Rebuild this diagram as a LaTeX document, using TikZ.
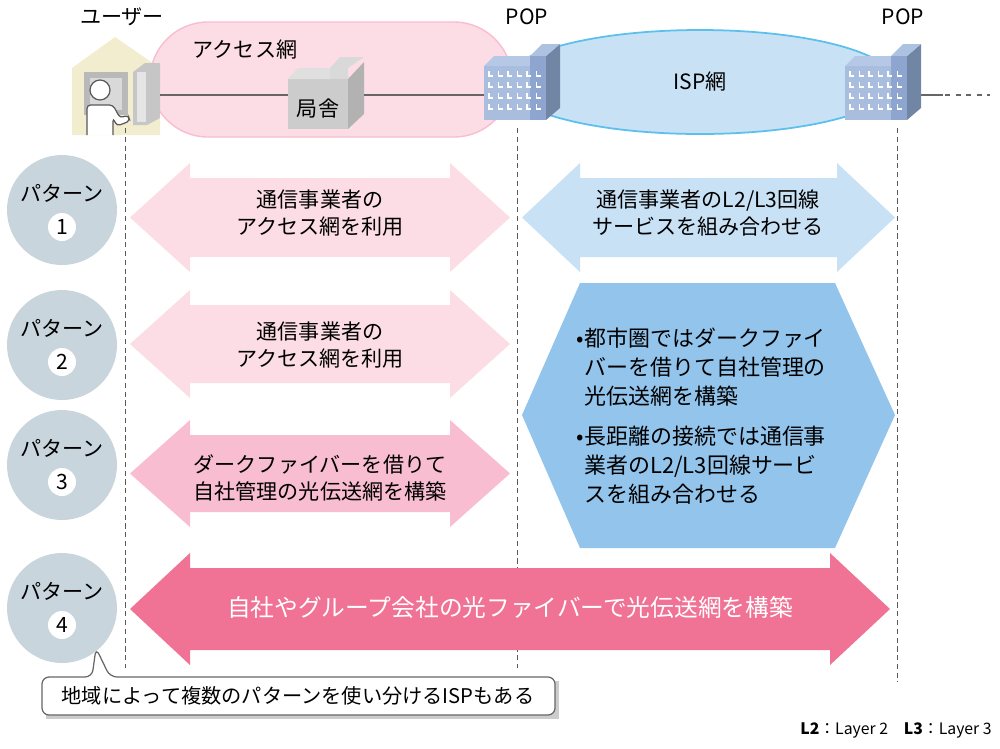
\documentclass[tikz,border=0pt]{standalone}
\usepackage{fontspec}
\setmainfont{Noto Sans CJK JP}
\usetikzlibrary{positioning,shapes.geometric,shapes.callouts,shadows}
\definecolor{pinkA}{HTML}{FCDDE5}
\definecolor{pinkB}{HTML}{F8BDD0}
\definecolor{pinkC}{HTML}{F07294}
\definecolor{blueA}{HTML}{C9E1F5}
\definecolor{blueB}{HTML}{93C5EC}
\definecolor{blueL}{HTML}{5BC0EB}
\definecolor{patgray}{HTML}{C9D5DC}
\definecolor{bldA}{HTML}{B5C8E6}
\definecolor{bldB}{HTML}{8EA6CF}
\definecolor{beige}{HTML}{F3EDCF}
\tikzset{
  lbl/.style={font=\fontsize{12}{15.5}\selectfont,align=center,inner sep=0pt},
  pat/.style={circle,fill=patgray,minimum size=110*0.02cm,inner sep=0pt},
  num/.style={circle,fill=white,minimum size=28*0.02cm,inner sep=0pt,font=\fontsize{12}{12}\selectfont},
  vline/.style={densely dashed,gray!70!black,line width=0.5pt},
  wire/.style={gray!80!black,line width=1.2pt},
}
\newcommand\dblarrow[6]{% fill, x1, x2, ytop, ybot, head
  \fill[#1] (#2,{(#4+#5)/2}) -- (#2+#6,#4-15) -- (#2+#6,#4) -- (#3-#6,#4) -- (#3-#6,#4-15)
    -- (#3,{(#4+#5)/2}) -- (#3-#6,#5+15) -- (#3-#6,#5) -- (#2+#6,#5) -- (#2+#6,#5+15) -- cycle;}
\newcommand\bldg[2]{% POP building at left-top corner
  \fill[bldB!80!black] (#1+62,#2+12) -- (#1+76,#2) -- (#1+76,#2+64) -- (#1+62,#2+76) -- cycle;
  \fill[bldA] (#1,#2+22) -- (#1+10,#2+12) -- (#1+46,#2+12) -- (#1+46,#2+22) -- cycle;
  \fill[bldA!80!bldB] (#1+46,#2+12) -- (#1+58,#2) -- (#1+76,#2) -- (#1+62,#2+12) -- cycle;
  \fill[bldB] (#1+46,#2+12) rectangle (#1+62,#2+76);
  \fill[bldA!70!bldB] (#1,#2+22) rectangle (#1+46,#2+76);
  \foreach \i in {0,...,5}{\foreach \j in {0,...,3}{
    \draw[white,line width=0.6pt] (#1+5+\i*9.5,#2+27+\j*11) -- ++(0,5) -- ++(4,0);}}
}
\begin{document}
\begin{tikzpicture}[x=0.02cm,y=-0.02cm]
\useasboundingbox (0,0) rectangle (1000,748);
% Networks
\fill[pinkA,draw=pinkB,line width=0.8pt,rounded corners=58*0.02cm] (150,22) rectangle (512,137);
\node[lbl] at (245,50) {アクセス網};
\draw[blueL,fill=blueA,line width=1pt] (700,82) ellipse [x radius=195,y radius=52];
\node[lbl] at (700,82) {ISP網};
% User
\fill[beige] (72,68) -- (115,37) -- (160,68) -- (160,135) -- (72,135) -- cycle;
\fill[gray!55] (84,72) rectangle (128,115);
\fill[gray!30] (90,78) rectangle (122,110);
\fill[gray!45] (133,72) -- (145,63) -- (160,63) -- (160,118) -- (147,125) -- (133,125) -- cycle;
\fill[gray!20] (137,72) rectangle (146,122);
\draw[gray!70!black,fill=white,line width=0.7pt] (100,90) circle (10);
\draw[gray!70!black,fill=white,line width=0.7pt,rounded corners=2pt]
  (87,135) -- (87,105) -- (113,105) -- (120,118) -- (128,115) -- (130,121) -- (117,126) -- (113,118) -- (113,135);
\coordinate (user) at (160,95);
\coordinate (kyokuW) at (288,95);
\coordinate (kyokuE) at (364,95);
% Station
\node[fill=gray!40,minimum width=60*0.02cm,minimum height=50*0.02cm,inner sep=0pt] (kyoku) at (318,104) {};
\fill[gray!60] (348,79) -- (364,62) -- (364,114) -- (348,129) -- cycle;
\fill[gray!25] (288,79) -- (298,68) -- (330,68) -- (330,79) -- cycle;
\fill[gray!30] (330,79) rectangle (348,68);
\fill[gray!30] (330,68) -- (340,57) -- (364,57) -- (348,68) -- cycle;
\node[lbl] at (318,108) {局舎};
% POPs
\coordinate (popL) at (484,95);
\coordinate (popRr) at (921,95);
\coordinate (endR) at (990,95);
\draw[wire] (user) -- (kyokuW);
\draw[wire] (kyokuE) -- (popL);
\draw[wire] (popRr) -- ++(22,0);
\draw[wire,dashed] (popRr) ++(24,0) -- (endR);
\bldg{484}{44}
\bldg{845}{44}
\node[lbl] at (122,17) {ユーザー};
\node[lbl] at (527,17) {POP};
\node[lbl] at (903,17) {POP};
% Guide lines
\coordinate (g1t) at (125,128); \coordinate (g1b) at (125,668);
\coordinate (g2t) at (517,128); \coordinate (g2b) at (517,668);
\coordinate (g3t) at (897,128); \coordinate (g3b) at (897,682);
\draw[vline] (g1t) -- (g1b);
\draw[vline] (g2t) -- (g2b);
\draw[vline] (g3t) -- (g3b);
% Patterns
\foreach \n/\y in {1/210,2/345,3/465,4/608}{
  \node[pat] (p\n) at (62,\y) {};
  \node[lbl] at (62,\y-17) {パターン};
  \node[num] at (62,\y+17) {\n};
}
% Arrows
\dblarrow{pinkA}{130}{510}{178}{257}{60}
\dblarrow{blueA}{522}{895}{178}{257}{58}
\dblarrow{pinkA}{130}{510}{305}{383}{60}
\dblarrow{pinkB}{130}{510}{435}{512}{60}
\dblarrow{pinkC}{130}{890}{568}{650}{60}
\fill[blueB] (580,283) -- (835,283) -- (895,415) -- (835,548) -- (580,548) -- (522,415) -- cycle;
\node[lbl] at (320,213) {通信事業者の\\アクセス網を利用};
\node[lbl] at (708,213) {通信事業者のL2/L3回線\\サービスを組み合わせる};
\node[lbl] at (320,345) {通信事業者の\\アクセス網を利用};
\node[lbl] at (320,478) {ダークファイバーを借りて\\自社管理の光伝送網を構築};
\node[lbl,align=left,anchor=north west,font=\fontsize{12.5}{16.5}\selectfont] at (584,328) {%
  \llap{•}都市圏ではダークファイ\\バーを借りて自社管理の\\光伝送網を構築\\[6pt]
  \llap{•}長距離の接続では通信事\\業者のL2/L3回線サービ\\スを組み合わせる};
\node[lbl,white,font=\fontsize{13.5}{15}\selectfont] at (510,607) {自社やグループ会社の光ファイバーで光伝送網を構築};
% Note
\fill[gray!40] (46,681) rectangle (559,719);
\draw[gray!80!black,fill=white,line width=0.7pt,rounded corners=4pt]
  (42,677) -- (92,677) -- (96,648) -- (110,677) -- (555,677) -- (555,715) -- (42,715) -- cycle;
\node[lbl,font=\fontsize{11.5}{12}\selectfont] (note) at (298,696) {地域によって複数のパターンを使い分けるISPもある};
\node[lbl,anchor=east,font=\fontsize{9}{10}\selectfont] (legend) at (992,730)
  {\textbf{L2}：Layer 2\quad \textbf{L3}：Layer 3};
\end{tikzpicture}
\end{document}
